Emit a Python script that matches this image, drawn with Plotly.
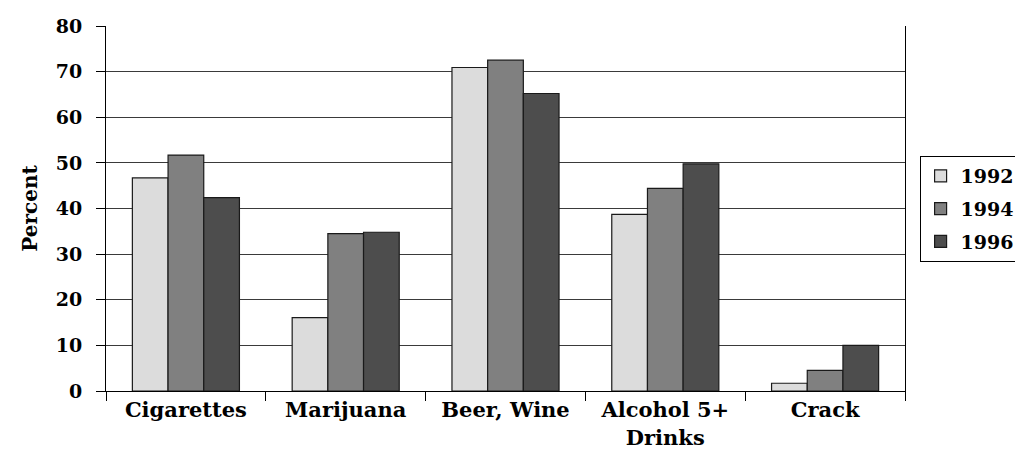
import plotly.graph_objects as go

# Substance use, percent by survey year
categories = ["Cigarettes", "Marijuana", "Beer, Wine", "Alcohol 5+<br>Drinks", "Crack"]
years = ["1992", "1994", "1996"]
values_1992 = [46.7, 16.1, 70.9, 38.7, 1.7]
values_1994 = [51.7, 34.5, 72.5, 44.4, 4.5]
values_1996 = [42.4, 34.8, 65.2, 49.8, 10.0]
y_ticks = [0, 10, 20, 30, 40, 50, 60, 70, 80]

series = [values_1992, values_1994, values_1996]
fills = ["#DCDCDC", "#808080", "#4D4D4D"]

serif = "DejaVu Serif, serif"

fig = go.Figure()
for name, vals, color in zip(years, series, fills):
    fig.add_trace(go.Bar(
        x=categories, y=vals, name=name, legendgroup=name,
        marker=dict(color=color, line=dict(color="#1a1a1a", width=1.2)),
    ))

fig.update_layout(
    width=1015, height=473,
    margin=dict(l=106, r=110, t=26, b=82),
    paper_bgcolor="white", plot_bgcolor="white",
    barmode="group", bargap=0.33, bargroupgap=0,
    font=dict(family=serif, color="black"),
    showlegend=True,
    legend=dict(
        xref="container", yref="container",
        x=0.906, xanchor="left", y=0.558, yanchor="middle",
        bordercolor="black", borderwidth=1,
        font=dict(family=serif, size=19, weight="bold"),
        itemwidth=30, tracegroupgap=5,
    ),
    xaxis=dict(
        showgrid=False, showline=True, linecolor="black", linewidth=1,
        ticks="outside", ticklen=9, tickcolor="black", tickson="boundaries",
        tickfont=dict(family=serif, size=21, weight="bold"),
    ),
    yaxis=dict(
        range=[0, 80], tickvals=y_ticks,
        showgrid=True, gridcolor="#3a3a3a", gridwidth=1,
        showline=True, linecolor="black", linewidth=1, mirror=True,
        ticks="outside", ticklen=9, tickcolor="black",
        ticklabelstandoff=10,
        tickfont=dict(family=serif, size=19, weight="bold"),
        title=dict(text="Percent", font=dict(family=serif, size=20, weight="bold"), standoff=12),
        zeroline=False,
    ),
)

fig.write_html("out.html")
